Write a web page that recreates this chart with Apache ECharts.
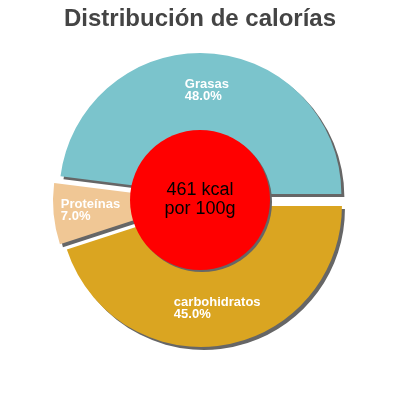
<!DOCTYPE html>
<html>
<head>
<meta charset="utf-8">
<script src="https://cdn.jsdelivr.net/npm/echarts@6/dist/echarts.min.js"></script>
<style>
html,body{margin:0;padding:0;background:#fff;}
#c{width:400px;height:400px;}
</style>
</head>
<body>
<div id="c"></div>
<script>
var titleText = 'Distribución de calorías';
var categories = ['Grasas', 'Proteínas', 'carbohidratos'];
var values = [48.0, 7.0, 45.0];
var colors = ['#7BC4CC', '#F0C795', '#DAA521'];
var centerText = ['461 kcal', 'por 100g'];

var font = '"Liberation Sans", Arial, sans-serif';
var chart = echarts.init(document.getElementById('c'));
var data = categories.map(function (c, i) {
  return { name: c, value: values[i], selected: true, itemStyle: { color: colors[i] } };
});
chart.setOption({
  animation: false,
  title: {
    text: titleText,
    left: 'center',
    top: 2,
    textStyle: { fontFamily: font, fontSize: 24, fontWeight: 'bold', color: '#444' }
  },
  series: [
    {
      type: 'pie',
      center: ['50%', '50%'],
      radius: [61, 141],
      startAngle: 0,
      clockwise: false,
      selectedMode: 'multiple',
      selectedOffset: 6,
      avoidLabelOverlap: false,
      itemStyle: {
        shadowColor: '#666',
        shadowOffsetX: 3,
        shadowOffsetY: 3,
        shadowBlur: 0
      },
      label: {
        show: true,
        position: 'inside',
        formatter: function (p) {
          return '{a|' + p.name + '}\n{a|' + p.value.toFixed(1) + '%}';
        },
        rich: {
          a: { align: 'left', color: '#fff', fontFamily: font, fontSize: 13, fontWeight: 'bold', lineHeight: 12 }
        }
      },
      labelLine: { show: false },
      emphasis: { disabled: true },
      data: data
    },
    {
      type: 'pie',
      center: ['50%', '50%'],
      radius: [0, 70],
      silent: true,
      z: 5,
      itemStyle: {
        color: '#FF0000',
        shadowColor: '#666',
        shadowOffsetX: 2,
        shadowOffsetY: 2,
        shadowBlur: 0
      },
      label: {
        show: true,
        position: 'center',
        formatter: centerText.join('\n'),
        color: '#000',
        fontFamily: font,
        fontSize: 18,
        lineHeight: 19
      },
      labelLine: { show: false },
      emphasis: { disabled: true },
      data: [{ value: 1, name: 'kcal' }]
    }
  ]
});
</script>
</body>
</html>
